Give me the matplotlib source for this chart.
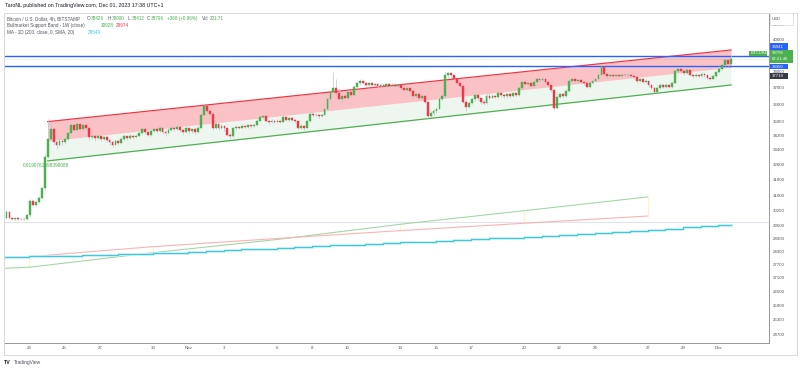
import matplotlib
matplotlib.use("Agg")
import matplotlib.pyplot as plt
from matplotlib.patches import Rectangle
from matplotlib.ticker import NullLocator
import numpy as np

plt.rcParams['font.family'] = ['Liberation Sans', 'DejaVu Sans']

W, H = 800, 370

# BTCUSD 4h candles, Oct 21 17:00 .. Dec 1 17:00 (index 0..246)
first_open = 29890
closes = [
    30150, 29890, 29830, 29860, 29820, 29850, 29830, 30000, 30720, 30520, 30650, 30860,
    31370, 33030, 34000, 34560, 33860, 33700, 33900, 33850, 34000, 34350, 34800, 34520,
    34850, 34550, 34800, 34600, 34100, 34200, 34050, 34150, 34000, 34100, 33950, 33850,
    33700, 33900, 33800, 34000, 34150, 34050, 34200, 34100, 34200, 34350, 34550, 34400,
    34250, 34450, 34550, 34450, 34600, 34400, 34350, 34500, 34650, 34550, 34700, 34500,
    34400, 34600, 34450, 34550, 34400, 34650, 35400, 35900, 35600, 35450, 34630, 34850,
    34600, 34750, 34600, 34250, 34150, 34600, 34700, 34650, 34750, 34700, 34780, 34720,
    34800, 35050, 35250, 35300, 35050, 34950, 35050, 34980, 35050, 34980, 35250, 35100,
    35200, 35100, 35000, 34650, 34750, 34620, 35000, 35450, 35350, 35400, 35300, 35400,
    35700, 36300, 36750, 36950, 36700, 36300, 36500, 36350, 36750, 36550, 37050, 37250,
    37400, 37300, 37150, 37250, 37150, 37200, 37100, 37180, 37100, 37200, 37120, 37180,
    37080, 37150, 36950, 36850, 36950, 36800, 36500, 36600, 36400, 36500, 36150, 35300,
    35500, 35600, 35750, 36300, 36500, 37800, 37900, 37750, 37550, 37300, 37100, 36150,
    35850, 36100, 36300, 36550, 36350, 36150, 36050, 36500, 36400, 36500, 36420, 36700,
    36550, 36480, 36600, 36500, 36650, 36550, 36950, 37350, 37200, 37300, 37100, 37350,
    37550, 37450, 37550, 37350, 37150, 36850, 35800, 36450, 36600, 36500, 36800, 37400,
    37500, 37400, 37450, 37350, 37250, 37050, 37250, 37400, 37500, 37750, 38250, 37850,
    37700, 37750, 37700, 37780, 37720, 37800, 37750, 37800, 37700, 37650, 37400, 37500,
    37350, 37420, 37150, 37000, 36750, 36950, 37150, 37050, 37150, 37050, 37300, 38000,
    38150, 38000, 37900, 38100, 37800, 37700, 37800, 37700, 37850, 37750, 37600, 37550,
    37700, 37950, 38150, 38400, 38700, 38426, 38796,
]
highs = [
    30250, 30180, 29920, 29900, 29880, 29900, 29880, 30060, 30800, 30780, 30700, 30950,
    31450, 33200, 35150, 35000, 34700, 33950, 34050, 34000, 34100, 34450, 34900, 34850,
    34950, 34880, 34900, 34850, 34650, 34300, 34250, 34250, 34200, 34200, 34150, 34000,
    33900, 34000, 33950, 34100, 34250, 34200, 34300, 34250, 34300, 34450, 34700, 34600,
    34450, 34550, 34650, 34600, 34750, 34650, 34500, 34600, 34750, 34700, 34800, 34750,
    34600, 34700, 34650, 34650, 34600, 34750, 35500, 35960, 35950, 35700, 35500, 34950,
    34900, 34850, 34800, 34650, 34350, 34700, 34800, 34750, 34850, 34800, 34850, 34820,
    34880, 35150, 35350, 35380, 35350, 35100, 35150, 35100, 35150, 35100, 35350, 35300,
    35300, 35250, 35150, 35050, 34850, 34800, 35100, 35550, 35500, 35480, 35450, 35500,
    35800, 36400, 36850, 37950, 37500, 36950, 36600, 36600, 36850, 36800, 37150, 37350,
    37500, 37450, 37350, 37320, 37280, 37300, 37250, 37250, 37220, 37280, 37250, 37260,
    37220, 37230, 37200, 37000, 37050, 37000, 36850, 36700, 36650, 36600, 36550, 36200,
    35600, 35700, 35850, 36400, 36600, 37950, 37980, 37950, 37800, 37600, 37350, 37150,
    36300, 36200, 36400, 36650, 36600, 36400, 36250, 36600, 36650, 36600, 36550, 36800,
    36750, 36600, 36700, 36650, 36750, 36700, 37050, 37450, 37450, 37400, 37350, 37450,
    37650, 37600, 37650, 37600, 37400, 37200, 36900, 36550, 36700, 36650, 36900, 37500,
    37600, 37550, 37550, 37500, 37400, 37300, 37350, 37500, 37600, 37850, 38420, 38300,
    37900, 37850, 37800, 37850, 37800, 37880, 37850, 37870, 37830, 37750, 37700, 37580,
    37520, 37500, 37450, 37200, 37050, 37050, 37250, 37200, 37250, 37200, 37400, 38100,
    38250, 38200, 38100, 38200, 38150, 37850, 37900, 37850, 37950, 37900, 37800, 37700,
    37800, 38000, 38300, 38550, 38850, 38750, 39000,
]
lows = [
    29850, 29860, 29780, 29800, 29760, 29790, 29780, 29800, 29950, 30450, 30480, 30600,
    30820, 31300, 32950, 33900, 33700, 33450, 33600, 33700, 33750, 33950, 34300, 34450,
    34500, 34450, 34500, 34500, 33950, 34000, 33900, 34000, 33900, 33950, 33850, 33700,
    33550, 33650, 33700, 33750, 33950, 33950, 34000, 34000, 34050, 34150, 34300, 34300,
    34150, 34200, 34400, 34350, 34400, 34300, 34200, 34300, 34450, 34450, 34500, 34400,
    34300, 34350, 34300, 34350, 34300, 34350, 34600, 35350, 35500, 35350, 34500, 34550,
    34500, 34550, 34450, 34150, 34050, 34100, 34500, 34550, 34600, 34600, 34650, 34650,
    34700, 34750, 35000, 35150, 34950, 34850, 34900, 34900, 34950, 34900, 34950, 35000,
    35050, 35000, 34900, 34550, 34550, 34500, 34600, 34950, 35250, 35300, 35200, 35250,
    35350, 35650, 36250, 36700, 36500, 36100, 36050, 36250, 36300, 36450, 36500, 37000,
    37150, 37200, 37050, 37100, 37050, 37100, 37000, 37050, 37000, 37050, 37050, 37080,
    37000, 37050, 36850, 36750, 36800, 36700, 36400, 36400, 36300, 36300, 36050, 35180,
    35250, 35400, 35500, 35700, 36200, 36400, 37600, 37600, 37450, 37200, 37000, 36050,
    35600, 35800, 36000, 36200, 36250, 36000, 35950, 36000, 36300, 36350, 36350, 36400,
    36450, 36400, 36400, 36400, 36450, 36450, 36500, 36900, 37100, 37150, 37000, 37050,
    37300, 37350, 37400, 37250, 37050, 36750, 35650, 35700, 36400, 36400, 36450, 36750,
    37300, 37300, 37300, 37250, 37150, 36950, 37000, 37200, 37350, 37450, 37700, 37750,
    37600, 37650, 37600, 37650, 37650, 37700, 37680, 37700, 37600, 37550, 37300, 37350,
    37250, 37300, 37050, 36900, 36650, 36700, 36900, 36950, 37000, 36950, 37000, 37250,
    37950, 37900, 37800, 37850, 37700, 37600, 37650, 37600, 37650, 37650, 37500, 37450,
    37500, 37650, 37900, 38100, 38350, 38350, 38412,
]

# 200-day SMA, one value per day (Oct 21 .. Dec 1)
ma200_daily = [
    28020, 28040, 28060, 28075, 28090, 28110, 28125, 28145, 28165, 28195, 28230, 28265,
    28300, 28340, 28375, 28410, 28450, 28490, 28525, 28560, 28600, 28635, 28670, 28710,
    28745, 28780, 28820, 28855, 28890, 28930, 28965, 29000, 29040, 29090, 29145, 29200,
    29255, 29310, 29365, 29420, 29480, 29549,
]

# Bull market support band, weekly points (Oct 16 .. Nov 27)
week_pos = [-34.25, 7.75, 49.75, 91.75, 133.75, 175.75, 217.75]
sma20w = [27330, 27560, 28225, 28840, 29572, 30237, 30928]
ema21w = [27900, 28041, 28505, 28890, 29265, 29620, 29974]

# regression channel anchors (candle index, price)
chan_x = [14, 246]
chan_upper = [34990, 39350]
chan_base = [33900, 38250]
chan_lower = [32810, 37156]
pearson = "0.9190761698398089"

hlines_blue = [38941, 38350]
gray_hline = 29667

price_ticks = [41000, 40000, 39000, 38000, 37000, 36000, 35000, 34200, 33400, 32600,
               31800, 31000, 30250, 29500, 28900, 28300, 27700, 27100, 26500, 25900,
               25300, 24700]
day_ticks = [7.75, 19.75, 31.75, 49.75, 61.75, 73.75, 91.75, 103.75, 115.75, 133.75,
             145.75, 157.75, 175.75, 187.75, 199.75, 217.75, 229.75, 241.75]
day_labels = ["23", "25", "27", "30", "Nov", "3", "6", "8", "10", "13", "15", "17",
              "20", "22", "24", "27", "29", "Dec"]

UP = "#4caf50"
DOWN = "#f23645"
BLUE = "#2962ff"
CYAN = "#3fc8dd"
TXT = "#50535e"
LEG = 3.35


def fx(px):
    return px / W


def fy(py):
    return 1 - py / H


fig = plt.figure(figsize=(W / 100, H / 100), dpi=100)
fig.patch.set_facecolor("white")

# outer frame
fig.patches.append(Rectangle((fx(4), fy(355)), (797 - 4) / W, (355 - 12.5) / H,
                             transform=fig.transFigure, fill=False,
                             edgecolor="#d6d8de", lw=0.7, zorder=0))

ax = fig.add_axes([fx(4), fy(342.5), (769 - 4) / W, (342.5 - 12.5) / H])
ax.set_yscale("log")
ax.set_ylim(24361, 41844)
ax.set_xlim(-0.84, 258.9)

for side in ["top", "left"]:
    ax.spines[side].set_visible(False)
for side in ["right", "bottom"]:
    ax.spines[side].set_color("#9598a1")
    ax.spines[side].set_linewidth(0.7)

ax.yaxis.tick_right()
ax.yaxis.set_minor_locator(NullLocator())
ax.set_yticks(price_ticks)
ax.set_yticklabels([str(p) for p in price_ticks])
ax.tick_params(axis="y", length=0, pad=3, labelsize=3.2, labelcolor=TXT)
ax.set_xticks(day_ticks)
ax.set_xticklabels(day_labels)
ax.tick_params(axis="x", length=0, pad=2.6, labelsize=3.2, labelcolor=TXT)

# regression channel
ax.fill_between(chan_x, chan_base, chan_upper, color="#f23645", alpha=0.3, lw=0, zorder=1)
ax.fill_between(chan_x, chan_lower, chan_base, color="#4caf50", alpha=0.09, lw=0, zorder=1)
ax.plot(chan_x, chan_upper, color="#f23645", lw=0.9, zorder=2)
ax.plot(chan_x, chan_lower, color="#4caf50", lw=0.9, zorder=2)
ax.text(5.5, 32551, pearson, color="#4caf50", fontsize=3.4, va="center", ha="left")

# horizontal lines
for p in hlines_blue:
    ax.axhline(p, color=BLUE, lw=1.0, zorder=2)
ax.axhline(closes[-1], color=UP, lw=0.5, ls=(0, (1, 1.5)), alpha=0.4, zorder=2)
ax.axhline(gray_hline, color="#e0e3eb", lw=0.8, zorder=1)

# bull market support band
ax.plot(week_pos, sma20w, color="#a5d6a7", lw=0.8, zorder=2)
ax.plot(week_pos, ema21w, color="#f9b3b3", lw=0.8, zorder=2)
ax.vlines(week_pos, np.minimum(sma20w, ema21w), np.maximum(sma20w, ema21w),
          color="#fff4c2", lw=0.8, zorder=1)

# 200D MA (daily steps)
ma_x = [-4.25 + 6 * n for n in range(len(ma200_daily))] + [246]
ma_y = ma200_daily + [ma200_daily[-1]]
ax.step(ma_x, ma_y, where="post", color="#c4eff5", lw=1.8, zorder=2)
ax.step(ma_x, ma_y, where="post", color=CYAN, lw=0.8, zorder=2)

# candles
c = np.array(closes, dtype=float)
o = np.array([first_open] + closes[:-1], dtype=float)
idx = np.arange(len(c))
col = np.where(c >= o, UP, DOWN)
ax.vlines(idx, lows, highs, color="#b9c6d2", lw=0.5, zorder=3)
ax.bar(idx, np.abs(c - o), bottom=np.minimum(c, o), width=0.62, color=col,
       edgecolor=col, linewidth=0.3, zorder=4)

# header texts
fig.text(fx(5), fy(5.7), "TaroNL published on TradingView.com, Dec 01, 2023 17:38 UTC+1",
         fontsize=3.8, color="#131722", va="center")


def leg(x, y, s, color=TXT):
    fig.text(fx(x), fy(y), s, fontsize=LEG, color=color, va="center")


leg(7, 18.5, "Bitcoin / U.S. Dollar, 4h, BITSTAMP")
for x, lab, val in [(87, "O", "38426"), (108, "H", "39000"), (128, "L", "38412"),
                    (147, "C", "38796")]:
    leg(x, 18.5, lab)
    leg(x + 3.6, 18.5, val, UP)
leg(167, 18.5, "+368 (+0.96%)", UP)
leg(202, 18.5, "Vol")
leg(209.5, 18.5, "201.71", UP)
leg(7, 25.5, "Bullmarket Support Band - 1W (close)")
leg(101, 25.5, "30928", UP)
leg(116, 25.5, "29974", DOWN)
leg(7, 32.5, "MA - 1D (200, close, 0, SMA, 20)")
leg(88, 32.5, "29549", CYAN)


def tag(x0, y0, x1, y1, color, texts, fc="white"):
    fig.patches.append(Rectangle((fx(x0), fy(y1)), (x1 - x0) / W, (y1 - y0) / H,
                                 transform=fig.transFigure, facecolor=color,
                                 edgecolor="none", zorder=5))
    for ty, s in texts:
        fig.text(fx(x0 + 2), fy(ty), s, fontsize=3.1, color=fc, va="center",
                 ha="left", zorder=6)


tag(770, 13.5, 793, 25, "white", [(19.5, "USD")], fc=TXT)
fig.patches.append(Rectangle((fx(770), fy(25)), 23 / W, 11.5 / H, transform=fig.transFigure,
                             fill=False, edgecolor="#d6d8de", lw=0.5, zorder=6))
tag(769.5, 43.3, 788, 50, BLUE, [(46.7, "38941")])
tag(769.5, 50, 793, 62.7, UP, [(53.3, "38796"), (59.3, "02:21:46")])
tag(749, 50.7, 767, 56, UP, [(53.4, "BTCUSD")])
tag(769.5, 64, 788, 69.3, BLUE, [(66.7, "38350")])
tag(769.5, 73.3, 788, 79.3, "#363a45", [(76.3, "37719")])

# TradingView logo
fig.text(fx(4), fy(362.3), "TV", fontsize=3.8, fontweight="bold", color="#131722",
         va="center")
fig.text(fx(14), fy(362.3), "TradingView", fontsize=3.5, color="#50535e", va="center")

fig.savefig("out.png", dpi=100)
